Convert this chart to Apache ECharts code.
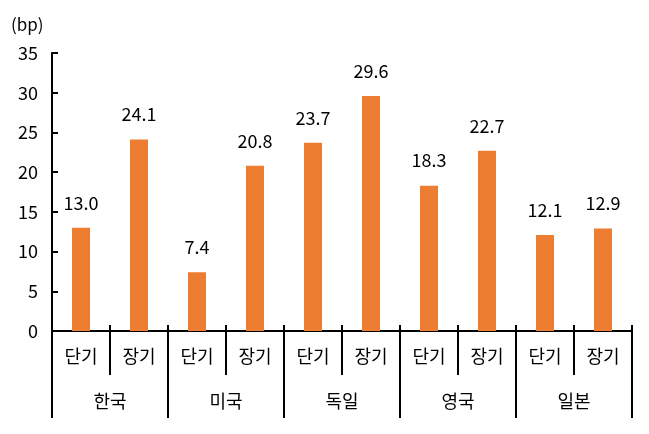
<!DOCTYPE html>
<html>
<head>
<meta charset="utf-8">
<script src="https://cdn.jsdelivr.net/npm/echarts@6/dist/echarts.min.js"></script>
<style>
  html, body { margin: 0; padding: 0; background: #fff; }
  #main { width: 649px; height: 434px; }
</style>
</head>
<body>
<div id="main"></div>
<script>
// 데이터
var terms = ['단기', '장기', '단기', '장기', '단기', '장기', '단기', '장기', '단기', '장기'];
var countries = ['한국', '미국', '독일', '영국', '일본'];
var values = [13.0, 24.1, 7.4, 20.8, 23.7, 29.6, 18.3, 22.7, 12.1, 12.9];
var yTicks = [0, 5, 10, 15, 20, 25, 30, 35];

var font = '"Noto Sans CJK KR", "Noto Sans", sans-serif';
var chart = echarts.init(document.getElementById('main'));

var option = {
    animation: false,
    title: {
        text: '(bp)',
        left: 6,
        top: 11,
        textStyle: { fontFamily: font, fontSize: 17, fontWeight: 'normal', color: '#000' }
    },
    grid: { left: 52, right: 17, top: 53, bottom: 103 },
    xAxis: [
        {
            // 단기/장기 라벨 + 아래 눈금
            type: 'category',
            data: terms,
            position: 'bottom',
            axisLine: { show: true, lineStyle: { color: '#000', width: 2 } },
            axisTick: { show: true, inside: false, length: 44, lineStyle: { color: '#000', width: 2 } },
            axisLabel: { margin: 16, fontFamily: font, fontSize: 18, color: '#000' }
        },
        {
            // 축 위로 살짝 올라오는 눈금
            type: 'category',
            data: terms,
            position: 'bottom',
            axisLine: { show: false },
            axisTick: { show: true, inside: true, length: 6, lineStyle: { color: '#000', width: 2 } },
            axisLabel: { show: false }
        },
        {
            // 국가 그룹
            type: 'category',
            data: countries,
            position: 'bottom',
            axisLine: { show: false },
            axisTick: { show: true, inside: false, length: 87, lineStyle: { color: '#000', width: 2 } },
            axisLabel: { margin: 61, fontFamily: font, fontSize: 18, color: '#000' }
        }
    ],
    yAxis: {
        type: 'value',
        min: yTicks[0],
        max: yTicks[yTicks.length - 1],
        interval: 5,
        splitLine: { show: false },
        axisLine: { show: true, lineStyle: { color: '#000', width: 2 } },
        axisTick: { show: true, inside: true, length: 6, lineStyle: { color: '#000', width: 2 } },
        axisLabel: { margin: 14, fontFamily: font, fontSize: 18, color: '#000' }
    },
    series: [{
        type: 'bar',
        xAxisIndex: 0,
        data: values,
        barWidth: 18,
        itemStyle: { color: '#ED7D31' },
        label: {
            show: true,
            position: 'top',
            distance: 16,
            fontFamily: font,
            fontSize: 18,
            color: '#000',
            formatter: function (p) { return p.value.toFixed(1); }
        }
    }]
};
chart.setOption(option);
</script>
</body>
</html>
